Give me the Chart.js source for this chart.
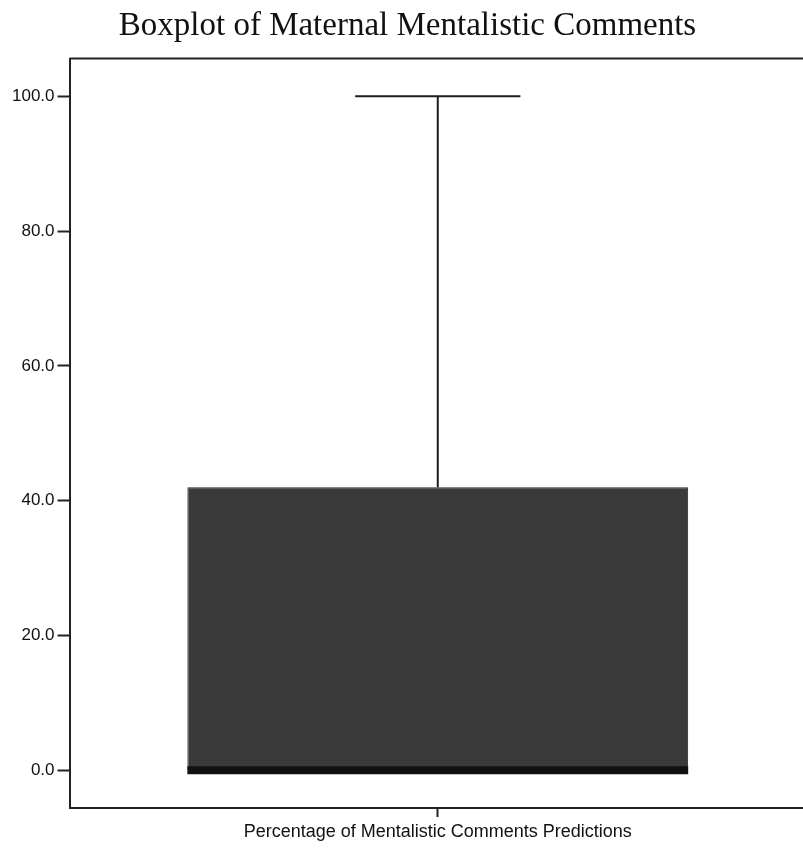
<!DOCTYPE html>
<html>
<head>
<meta charset="utf-8">
<script src="https://cdn.jsdelivr.net/npm/chart.js@4"></script>
<style>
  html, body { margin: 0; padding: 0; background: #fff; overflow: hidden; }
  #wrap { width: 806px; height: 849px; }
</style>
</head>
<body>
<div id="wrap"><canvas id="boxChart"></canvas></div>
<script>
// data
const categories = ['Percentage of Mentalistic Comments Predictions'];
const q1Values = [0];
const q3Values = [42];
const medianValues = [0];
const minValues = [0];
const maxValues = [100];
const yTickValues = [0, 20, 40, 60, 80, 100];

// whiskers, caps and median drawn on top of the floating bar
const boxExtras = {
    id: 'boxExtras',
    afterDatasetsDraw(chart) {
        const ctx = chart.ctx;
        const y = chart.scales.y;
        const area = chart.chartArea;
        const meta = chart.getDatasetMeta(0);

        ctx.save();
        // top and right frame of the plot
        ctx.strokeStyle = '#222';
        ctx.lineWidth = 2;
        ctx.beginPath();
        ctx.moveTo(area.left, area.top);
        ctx.lineTo(area.right, area.top);
        ctx.lineTo(area.right, area.bottom);
        ctx.stroke();

        meta.data.forEach((bar, i) => {
            const cx = bar.x;
            const half = bar.width / 2;
            const capHalf = bar.width * 0.165;
            const yMax = y.getPixelForValue(maxValues[i]);
            const yQ3 = y.getPixelForValue(q3Values[i]);
            const yMin = y.getPixelForValue(minValues[i]);
            const yQ1 = y.getPixelForValue(q1Values[i]);
            const yMed = y.getPixelForValue(medianValues[i]);

            ctx.strokeStyle = '#1e1e1e';
            ctx.lineWidth = 2;
            ctx.beginPath();
            ctx.moveTo(cx, yQ3);
            ctx.lineTo(cx, yMax);
            ctx.moveTo(cx - capHalf, yMax);
            ctx.lineTo(cx + capHalf, yMax);
            if (yMin > yQ1 + 1) {
                ctx.moveTo(cx, yQ1);
                ctx.lineTo(cx, yMin);
                ctx.moveTo(cx - capHalf, yMin);
                ctx.lineTo(cx + capHalf, yMin);
            }
            ctx.stroke();

            // median
            ctx.strokeStyle = '#111';
            ctx.lineWidth = 8;
            ctx.beginPath();
            ctx.moveTo(cx - half, yMed);
            ctx.lineTo(cx + half, yMed);
            ctx.stroke();
        });
        ctx.restore();
    }
};

const ctx = document.getElementById('boxChart').getContext('2d');
new Chart(ctx, {
    type: 'bar',
    data: {
        labels: categories,
        datasets: [{
            data: q1Values.map((v, i) => [v, q3Values[i]]),
            backgroundColor: '#3a3a3a',
            borderColor: '#262626',
            borderWidth: 1,
            borderSkipped: false,
            categoryPercentage: 1,
            barPercentage: 0.68
        }]
    },
    options: {
        responsive: true,
        maintainAspectRatio: false,
        animation: false,
        layout: {
            padding: { left: 9, right: 0, top: 0, bottom: 2 }
        },
        plugins: {
            legend: { display: false },
            tooltip: { enabled: false },
            title: {
                display: true,
                text: 'Boxplot of Maternal Mentalistic Comments',
                color: '#111',
                font: { family: '"Liberation Serif", "Times New Roman", serif', size: 33, weight: 'normal' },
                padding: { top: 7, bottom: 12 }
            }
        },
        scales: {
            x: {
                grid: { display: true, offset: false, drawOnChartArea: false, tickLength: 9, tickColor: '#222', tickWidth: 2 },
                border: { display: true, color: '#222', width: 2 },
                ticks: {
                    color: '#111',
                    padding: 6,
                    font: { family: '"Liberation Sans", Arial, sans-serif', size: 18, lineHeight: 1 }
                }
            },
            y: {
                min: -5.6,
                max: 105.6,
                afterBuildTicks(scale) {
                    scale.ticks = yTickValues.map(v => ({ value: v }));
                },
                grid: { display: true, drawOnChartArea: false, tickLength: 12, tickColor: '#222', tickWidth: 2 },
                border: { display: true, color: '#222', width: 2 },
                ticks: {
                    color: '#111',
                    padding: 3,
                    font: { family: '"Liberation Sans", Arial, sans-serif', size: 17 },
                    callback: v => Number(v).toFixed(1)
                }
            }
        }
    },
    plugins: [boxExtras]
});
</script>
</body>
</html>
